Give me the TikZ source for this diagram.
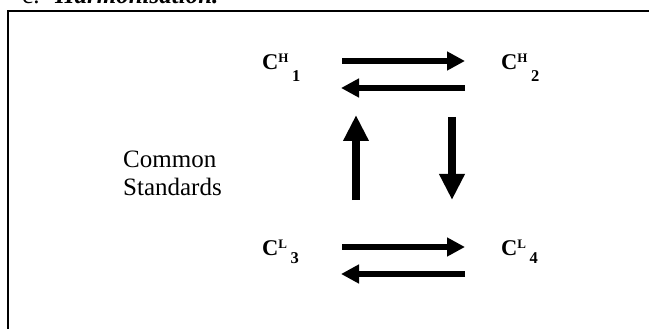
\documentclass[tikz,border=0pt]{standalone}
\usepackage{fontspec}
\setmainfont{Liberation Serif}
\usetikzlibrary{arrows.meta,positioning}

\newcommand{\cname}[3]{C\raisebox{7pt}{\fontsize{13}{13}\selectfont #1}\hspace{3.5pt}\raisebox{#3}{\fontsize{16.5}{16.5}\selectfont #2}}

\begin{document}
\begin{tikzpicture}[x=1pt,y=-1pt,
  conc/.style={anchor=base west,inner sep=0pt,font=\bfseries\fontsize{22.5}{22.5}\selectfont},
  harrow/.style={line width=6pt,-{Triangle[length=18pt,width=18pt]}},
  varrow/.style={line width=7.5pt,-{Triangle[length=26pt,width=24pt]}}]
  \useasboundingbox (0,0) rectangle (649,329);
  \clip (0,0) rectangle (649,329);
  \draw[line width=2pt] (8.3,335) -- (8.3,11) -- (655,11);
  \node[anchor=base west,inner sep=0pt,font=\fontsize{25}{28}\selectfont] (item) at (22,4) {c.};
  \node[anchor=base west,inner sep=0pt,font=\bfseries\itshape\fontsize{25}{28}\selectfont] (title) at (55,4) {Harmonisation.};

  \node[conc] (c1) at (262,70) {\cname{H}{1}{-12pt}};
  \node[conc] (c2) at (501,70) {\cname{H}{2}{-12pt}};
  \node[conc] (c3) at (262,255) {\cname{L}{3}{-8pt}};
  \node[conc] (c4) at (501,255) {\cname{L}{4}{-8pt}};
  \node[anchor=base west,inner sep=0pt,align=left,font=\fontsize{25}{28}\selectfont] (common) at (123,195) {Common\\Standards};

  \draw[harrow] ([xshift=80pt,yshift=9pt]c1.base west) -- ([xshift=-36pt,yshift=9pt]c2.base west);
  \draw[harrow] ([xshift=-36pt,yshift=-18pt]c2.base west) -- ([xshift=79pt,yshift=-18pt]c1.base west);
  \draw[harrow] ([xshift=80pt,yshift=8pt]c3.base west) -- ([xshift=-36pt,yshift=8pt]c4.base west);
  \draw[harrow] ([xshift=-36pt,yshift=-19pt]c4.base west) -- ([xshift=79pt,yshift=-19pt]c3.base west);
  \draw[varrow] ([xshift=94pt,yshift=55pt]c3.base west) -- ([xshift=94pt,yshift=-45pt]c1.base west);
  \draw[varrow] ([xshift=-49pt,yshift=-47pt]c2.base west) -- ([xshift=-49pt,yshift=55pt]c4.base west);
\end{tikzpicture}
\end{document}
